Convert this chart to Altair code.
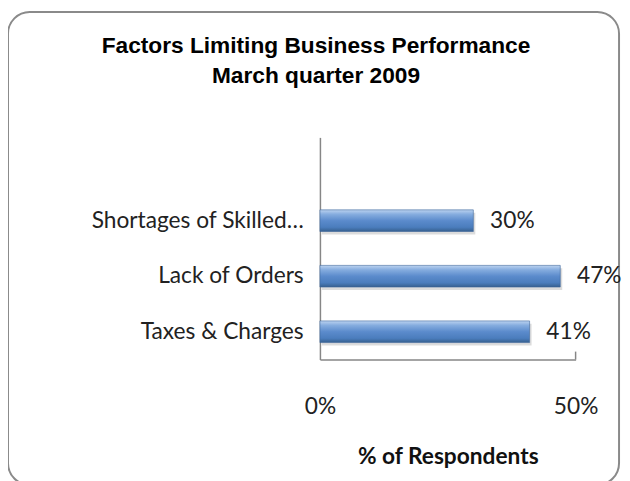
import altair as alt
import pandas as pd

categories = ["Shortages of Skilled\u2026", "Lack of Orders", "Taxes & Charges"]
values = [30, 47, 41]
x_ticks = [0, 50]
title_lines = ["Factors Limiting Business Performance", "March quarter 2009"]
x_title = "% of Respondents"

df = pd.DataFrame({"factor": categories, "pct": values})
y_domain = [" "] + categories

W, H = 259, 225
LABEL_FONT = "Lato"
FS = 23

y_enc = alt.Y("factor:N", sort=None,
              scale=alt.Scale(domain=y_domain, paddingInner=0.61, paddingOuter=0.305),
              axis=alt.Axis(title=None, ticks=False, domainColor="#868686", domainWidth=1.5,
                            labelFont=LABEL_FONT, labelFontSize=FS, labelColor="#222222",
                            labelPadding=17, labelLimit=400))
x_enc = alt.X("pct:Q",
              scale=alt.Scale(domain=[0, 50], nice=False),
              axis=alt.Axis(values=x_ticks, labelExpr="datum.value + '%'", grid=False, ticks=False,
                            domainColor="#868686", domainWidth=1.5,
                            labelFont=LABEL_FONT, labelFontSize=FS, labelColor="#222222",
                            labelPadding=37, labelFlush=False,
                            title=x_title, titleFont=LABEL_FONT, titleFontSize=FS,
                            titleFontWeight="bold", titleColor="#111111", titlePadding=27))

base = alt.Chart(df)

frame = alt.Chart(alt.Data(values=[{}])).mark_rect(
    fill="transparent", stroke="#8a8a8a", strokeWidth=2, cornerRadius=22, clip=False
).encode(x=alt.value(-316), x2=alt.value(303), y=alt.value(-127), y2=alt.value(352))


def title_line(txt, ypos):
    return alt.Chart(alt.Data(values=[{"t": txt}])).mark_text(
        align="center", baseline="middle", font="Liberation Sans", fontSize=23, fontWeight="bold",
        color="#000000", clip=False
    ).encode(text="t:N", x=alt.value(-4), y=alt.value(ypos))


t1 = title_line(title_lines[0], -92)
t2 = title_line(title_lines[1], -62)

shadow = base.mark_bar(color="#9a9a9a", opacity=0.35, xOffset=2, yOffset=3).encode(
    x=x_enc, y=y_enc)

bars = base.mark_bar(
    stroke="#3b659a", strokeWidth=0.6,
    color=alt.Gradient(
        gradient="linear", x1=0, x2=0, y1=0, y2=1,
        stops=[alt.GradientStop(color="#bcd3f0", offset=0),
               alt.GradientStop(color="#86addf", offset=0.2),
               alt.GradientStop(color="#5b8bcc", offset=0.5),
               alt.GradientStop(color="#4b7dbd", offset=0.8),
               alt.GradientStop(color="#36608f", offset=1)])
).encode(x=x_enc, y=y_enc)

labels = base.transform_calculate(lbl="datum.pct + '%'").mark_text(
    align="left", baseline="middle", dx=17, font=LABEL_FONT, fontSize=FS, color="#222222"
).encode(x=alt.X("pct:Q"), y=alt.Y("factor:N", sort=None), text="lbl:N")

tick = alt.Chart(alt.Data(values=[{"v": 50}])).mark_rule(color="#868686", strokeWidth=1.5).encode(
    x=alt.X("v:Q"), y=alt.value(H - 8), y2=alt.value(H))

chart = alt.layer(frame, shadow, bars, labels, tick, t1, t2).properties(
    width=W, height=H,
    autosize="none",
    padding={"left": 316, "top": 128, "right": 47, "bottom": 120},
).configure_view(stroke=None)

chart.save("out.html", embed_options={"renderer": "svg", "actions": False})
